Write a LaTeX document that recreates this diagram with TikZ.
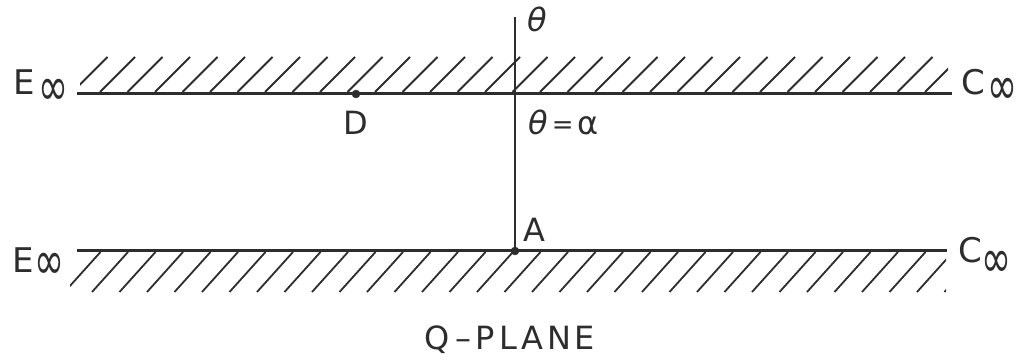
\documentclass[tikz,border=0pt]{standalone}
\usepackage{fontspec}
\setmainfont{DejaVu Sans}
\usepackage{graphicx}
\begin{document}
\begin{tikzpicture}[x=1pt,y=-1pt,
  mainline/.style={draw=inkc,line width=3pt},
  hatch/.style={draw=inkc,line width=1.8pt},
  lbl/.style={inner sep=0pt,text=inkc,font=\fontsize{32}{36}\selectfont},
  biglbl/.style={inner sep=0pt,text=inkc,font=\fontsize{34}{38}\selectfont},
  inf/.style={inner sep=0pt,text=inkc,font=\fontsize{36}{40}\selectfont},
  dotmark/.style={circle,fill=inkc,draw=inkc,inner sep=0pt,minimum size=8pt}]
\definecolor{inkc}{RGB}{45,45,45}
\useasboundingbox (0,0) rectangle (1026,363);
% main lines
\coordinate (TL) at (77,94);
\coordinate (TR) at (952,94);
\coordinate (BL) at (77,251);
\coordinate (BR) at (947,251);
\coordinate (Vtop) at (515,17);
\node[dotmark] (D) at (356,94) {};
\node[dotmark] (A) at (515,251) {};
\draw[mainline] (TL) -- (TR);
\draw[mainline] (BL) -- (BR);
\draw[draw=inkc,line width=2.8pt] (Vtop) -- (A.center);
% top hatches
\begin{scope}
\clip (80,40) rectangle (948,93);
\foreach \i in {0,...,31}{
  \draw[hatch] ({72.5+27.5*\i},92) -- ++(35,-35);
}
\end{scope}
% bottom hatches
\begin{scope}
\clip (70,253) rectangle (946,300);
\foreach \i in {0,...,32}{
  \draw[hatch] ({100.5+27.5*\i},252) -- ++(-36,40);
}
\end{scope}
% labels
\node[biglbl,anchor=base west] (E1) at (13,95) {E};
\node[inf] (E1i) at (53,92.5) {\scalebox{1}[1.5]{∞}};
\node[biglbl,anchor=base west] (C1) at (961,95) {C};
\node[inf] (C1i) at (1002,91.5) {\scalebox{1}[1.5]{∞}};
\node[biglbl,anchor=base west] (E2) at (12,273) {E};
\node[inf] (E2i) at (49,266.5) {\scalebox{1}[1.5]{∞}};
\node[biglbl,anchor=base west] (C2) at (958,263) {C};
\node[inf] (C2i) at (996,264) {\scalebox{1}[1.5]{∞}};
\node[lbl,anchor=base west] (th) at (527,32) {\textit{θ}};
\node[lbl,anchor=base west] (tha) at (528,135) {\textit{θ}\kern4pt\raisebox{1pt}{\fontsize{26}{28}\selectfont=}\kern4pt α};
\node[lbl,anchor=base west] (Dl) at (343,135) {D};
\node[lbl,anchor=base west] (Al) at (523,242) {A};
\node[lbl,anchor=base] (Q) at (510,350) {Q\kern5pt–\kern5pt P\kern4pt L\kern4pt A\kern4pt N\kern4pt E};
\end{tikzpicture}
\end{document}
